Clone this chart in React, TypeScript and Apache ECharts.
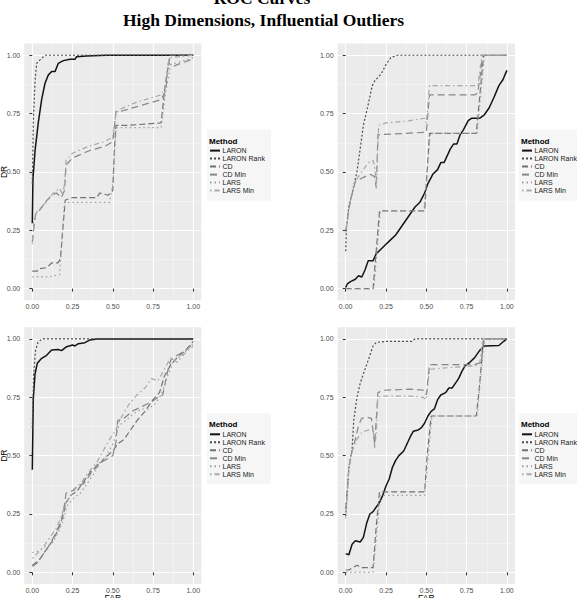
import { useEffect, useRef } from "react";
import * as echarts from "echarts";

const METHODS = ["LARON", "LARON Rank", "CD", "CD Min", "LARS", "LARS Min"];
const TICK_VALUES = [0, 0.25, 0.5, 0.75, 1];
const TICK_LABELS = ["0.00", "0.25", "0.50", "0.75", "1.00"];
const MINOR_VALUES = [0.125, 0.375, 0.625, 0.875];
const TITLE_LINES = ["ROC Curves", "High Dimensions, Influential Outliers"];
const X_TITLE = "FAR";
const Y_TITLE = "DR";
const LEGEND_TITLE = "Method";

// Panel 1: top left
const p1Laron = [[0,0.28],[0.004,0.47],[0.017,0.59],[0.037,0.71],[0.058,0.81],[0.079,0.88],[0.099,0.915],[0.12,0.93],[0.141,0.93],[0.161,0.965],[0.193,0.977],[0.234,0.983],[0.265,0.983],[0.275,0.994],[0.337,0.997],[0.46,1],[1,1]];
const p1Rank = [[0,0.45],[0.006,0.71],[0.017,0.89],[0.027,0.965],[0.048,0.98],[0.079,1],[1,1]];
const p1Cd = [[0,0.075],[0.03,0.075],[0.04,0.085],[0.09,0.09],[0.12,0.11],[0.16,0.11],[0.175,0.13],[0.19,0.26],[0.205,0.38],[0.25,0.39],[0.4,0.39],[0.42,0.41],[0.47,0.4],[0.5,0.42],[0.51,0.6],[0.52,0.7],[0.6,0.7],[0.8,0.71],[0.825,0.87],[0.855,1],[1,1]];
const p1CdMin = [[0,0.2],[0.02,0.32],[0.05,0.34],[0.08,0.37],[0.12,0.4],[0.15,0.41],[0.18,0.39],[0.2,0.42],[0.21,0.53],[0.25,0.56],[0.35,0.59],[0.45,0.61],[0.5,0.63],[0.52,0.76],[0.55,0.76],[0.65,0.78],[0.8,0.81],[0.83,0.85],[0.845,0.97],[0.87,0.95],[0.9,0.96],[1,0.985]];
const p1Lars = [[0,0.05],[0.1,0.05],[0.17,0.06],[0.2,0.37],[0.48,0.37],[0.5,0.45],[0.52,0.69],[0.8,0.69],[0.83,0.85],[0.86,0.96],[1,0.99]];
const p1LarsMin = [[0,0.19],[0.01,0.3],[0.03,0.33],[0.07,0.36],[0.1,0.38],[0.13,0.41],[0.17,0.43],[0.19,0.4],[0.2,0.45],[0.21,0.55],[0.25,0.58],[0.35,0.61],[0.45,0.63],[0.5,0.65],[0.52,0.75],[0.55,0.77],[0.65,0.8],[0.8,0.83],[0.83,0.87],[0.85,0.99],[1,1]];

// Panel 2: top right
const p2Laron = [[0,0.005],[0.01,0.02],[0.03,0.03],[0.06,0.04],[0.08,0.055],[0.1,0.05],[0.12,0.08],[0.14,0.12],[0.17,0.12],[0.19,0.15],[0.22,0.17],[0.25,0.19],[0.28,0.21],[0.31,0.23],[0.34,0.26],[0.37,0.29],[0.4,0.32],[0.43,0.35],[0.46,0.37],[0.49,0.41],[0.51,0.45],[0.54,0.49],[0.57,0.51],[0.59,0.54],[0.61,0.54],[0.63,0.57],[0.65,0.6],[0.67,0.62],[0.69,0.62],[0.71,0.66],[0.73,0.68],[0.76,0.72],[0.78,0.73],[0.83,0.73],[0.86,0.745],[0.89,0.775],[0.92,0.82],[0.95,0.87],[0.975,0.895],[0.99,0.92],[1,0.935]];
const p2Rank = [[0,0.16],[0.005,0.26],[0.02,0.35],[0.04,0.41],[0.07,0.5],[0.09,0.6],[0.11,0.7],[0.14,0.79],[0.165,0.87],[0.18,0.89],[0.22,0.92],[0.25,0.96],[0.28,0.99],[0.32,1],[1,1]];
const p2Cd = [[0,0],[0.17,0],[0.2,0.25],[0.21,0.333],[0.49,0.333],[0.505,0.5],[0.52,0.665],[0.81,0.665],[0.835,0.85],[0.855,1],[1,1]];
const p2CdMin = [[0,0.25],[0.03,0.38],[0.06,0.46],[0.09,0.47],[0.12,0.48],[0.15,0.49],[0.18,0.48],[0.19,0.43],[0.2,0.66],[0.22,0.66],[0.5,0.67],[0.52,0.83],[0.8,0.83],[0.82,0.84],[0.85,1],[1,1]];
const p2Lars = [[0,0],[0.175,0],[0.215,0.333],[0.485,0.333],[0.525,0.665],[0.815,0.665],[0.86,1],[1,1]];
const p2LarsMin = [[0,0.24],[0.02,0.35],[0.06,0.46],[0.1,0.5],[0.14,0.54],[0.17,0.55],[0.18,0.52],[0.19,0.45],[0.205,0.7],[0.25,0.71],[0.4,0.72],[0.49,0.73],[0.5,0.71],[0.52,0.87],[0.8,0.87],[0.82,0.87],[0.845,1],[1,1]];

// Panel 3: bottom left
const p3Laron = [[0,0.44],[0.006,0.74],[0.017,0.85],[0.031,0.896],[0.058,0.917],[0.089,0.93],[0.12,0.953],[0.161,0.955],[0.182,0.95],[0.213,0.967],[0.25,0.974],[0.265,0.97],[0.286,0.98],[0.327,0.984],[0.358,0.996],[0.4,1],[1,1]];
const p3Rank = [[0,0.62],[0.008,0.85],[0.02,0.95],[0.035,0.985],[0.06,1],[1,1]];
const p3Cd = [[0,0.03],[0.04,0.05],[0.08,0.09],[0.12,0.13],[0.16,0.18],[0.19,0.24],[0.21,0.3],[0.24,0.33],[0.28,0.35],[0.32,0.39],[0.36,0.43],[0.4,0.45],[0.45,0.49],[0.5,0.52],[0.53,0.55],[0.57,0.57],[0.61,0.61],[0.65,0.65],[0.7,0.69],[0.75,0.74],[0.79,0.77],[0.82,0.84],[0.86,0.89],[0.9,0.92],[0.95,0.95],[1,0.99]];
const p3CdMin = [[0,0.025],[0.03,0.04],[0.06,0.07],[0.1,0.11],[0.14,0.16],[0.18,0.22],[0.2,0.29],[0.21,0.34],[0.25,0.35],[0.28,0.37],[0.32,0.38],[0.36,0.42],[0.4,0.46],[0.45,0.48],[0.5,0.5],[0.52,0.56],[0.53,0.65],[0.57,0.66],[0.62,0.69],[0.68,0.71],[0.74,0.73],[0.78,0.75],[0.81,0.76],[0.84,0.86],[0.86,0.91],[0.9,0.93],[0.95,0.95],[1,0.98]];
const p3Lars = [[0,0.085],[0.04,0.09],[0.08,0.11],[0.12,0.12],[0.16,0.17],[0.19,0.22],[0.22,0.29],[0.26,0.32],[0.3,0.34],[0.34,0.38],[0.38,0.42],[0.42,0.47],[0.46,0.5],[0.5,0.55],[0.54,0.63],[0.58,0.65],[0.63,0.68],[0.68,0.7],[0.72,0.7],[0.76,0.72],[0.8,0.76],[0.84,0.84],[0.88,0.91],[0.93,0.93],[0.97,0.96],[1,0.98]];
const p3LarsMin = [[0,0.06],[0.03,0.08],[0.07,0.11],[0.11,0.15],[0.15,0.19],[0.18,0.24],[0.2,0.28],[0.23,0.32],[0.27,0.36],[0.31,0.39],[0.35,0.43],[0.4,0.47],[0.44,0.52],[0.48,0.57],[0.51,0.6],[0.55,0.66],[0.6,0.72],[0.65,0.76],[0.7,0.79],[0.74,0.83],[0.78,0.82],[0.82,0.87],[0.86,0.92],[0.9,0.9],[0.95,0.94],[1,0.97]];

// Panel 4: bottom right
const p4Laron = [[0,0.08],[0.02,0.075],[0.04,0.12],[0.06,0.135],[0.09,0.13],[0.11,0.15],[0.13,0.21],[0.15,0.25],[0.17,0.26],[0.19,0.28],[0.21,0.3],[0.23,0.33],[0.25,0.37],[0.27,0.4],[0.29,0.45],[0.31,0.48],[0.33,0.5],[0.36,0.52],[0.38,0.55],[0.4,0.58],[0.42,0.605],[0.45,0.61],[0.47,0.62],[0.49,0.64],[0.51,0.67],[0.53,0.69],[0.55,0.7],[0.57,0.74],[0.59,0.76],[0.62,0.77],[0.64,0.79],[0.66,0.79],[0.68,0.81],[0.7,0.83],[0.72,0.86],[0.74,0.885],[0.77,0.9],[0.8,0.92],[0.83,0.95],[0.86,0.97],[0.95,0.972],[0.98,0.99],[1,1]];
const p4Rank = [[0,0.24],[0.01,0.35],[0.02,0.45],[0.04,0.53],[0.05,0.65],[0.07,0.75],[0.09,0.81],[0.12,0.87],[0.15,0.93],[0.17,0.97],[0.19,0.985],[0.25,0.99],[0.41,0.99],[0.43,1],[1,1]];
const p4Cd = [[0,0.01],[0.02,0.01],[0.07,0.03],[0.1,0.02],[0.17,0.02],[0.19,0.2],[0.21,0.345],[0.49,0.345],[0.505,0.5],[0.53,0.67],[0.81,0.67],[0.83,0.8],[0.855,1],[1,1]];
const p4CdMin = [[0,0.27],[0.02,0.45],[0.04,0.52],[0.06,0.57],[0.08,0.63],[0.1,0.66],[0.13,0.665],[0.16,0.66],[0.18,0.55],[0.2,0.77],[0.23,0.78],[0.4,0.785],[0.49,0.78],[0.5,0.76],[0.52,0.89],[0.8,0.89],[0.84,0.9],[0.86,1],[1,1]];
const p4Lars = [[0,0],[0.17,0],[0.215,0.33],[0.49,0.33],[0.535,0.67],[0.815,0.67],[0.86,1],[1,1]];
const p4LarsMin = [[0,0.23],[0.02,0.44],[0.04,0.52],[0.07,0.57],[0.1,0.6],[0.14,0.61],[0.17,0.62],[0.18,0.53],[0.19,0.6],[0.2,0.75],[0.23,0.755],[0.4,0.755],[0.48,0.75],[0.5,0.74],[0.52,0.87],[0.6,0.875],[0.8,0.885],[0.83,0.89],[0.85,1],[1,1]];

const PANEL_DATA = [
  [p1Laron, p1Rank, p1Cd, p1CdMin, p1Lars, p1LarsMin],
  [p2Laron, p2Rank, p2Cd, p2CdMin, p2Lars, p2LarsMin],
  [p3Laron, p3Rank, p3Cd, p3CdMin, p3Lars, p3LarsMin],
  [p4Laron, p4Rank, p4Cd, p4CdMin, p4Lars, p4LarsMin],
];

const SANS = "'Liberation Sans', Arial, Helvetica, sans-serif";
const SERIF = "'Liberation Serif', 'Times New Roman', serif";

const LINE_STYLES: Record<string, { color: string; width: number; type: any }> = {
  "LARON": { color: "#141414", width: 1.5, type: "solid" },
  "LARON Rank": { color: "#4c4c4c", width: 1.2, type: [2, 2] },
  "CD": { color: "#737373", width: 1.2, type: [6, 3] },
  "CD Min": { color: "#878787", width: 1.2, type: [7, 4] },
  "LARS": { color: "#9e9e9e", width: 1.2, type: [1.5, 3] },
  "LARS Min": { color: "#a8a8a8", width: 1.2, type: [1.5, 3, 5, 3] },
};

// Panel boxes (grey area), legend anchors and which axis titles each panel carries
const PANELS = [
  { left: 24.25, top: 43.6, width: 177.1, height: 256.7, legendX: 207, yTitle: true, xTitle: false },
  { left: 337.6, top: 43.6, width: 177.4, height: 256.7, legendX: 519, yTitle: false, xTitle: false },
  { left: 24.25, top: 327.3, width: 177.1, height: 256.7, legendX: 207, yTitle: true, xTitle: true },
  { left: 337.6, top: 327.3, width: 177.4, height: 256.7, legendX: 519, yTitle: false, xTitle: true },
];

const tickFormatter = (v: number) => {
  const idx = TICK_VALUES.findIndex((t) => Math.abs(t - v) < 1e-9);
  return idx >= 0 ? TICK_LABELS[idx] : "";
};

function majorAxis(gridIndex: number, dim: "x" | "y") {
  return {
    gridIndex,
    type: "value",
    min: -0.05,
    max: 1.05,
    position: dim === "x" ? "bottom" : "left",
    axisLine: { show: false },
    axisTick: { show: true, length: 3, lineStyle: { color: "#333333", width: 1 }, customValues: TICK_VALUES },
    axisLabel: {
      show: true,
      customValues: TICK_VALUES,
      formatter: tickFormatter,
      fontSize: 7,
      fontFamily: SANS,
      color: "#4d4d4d",
      margin: dim === "x" ? 3 : 4,
    },
    splitLine: { show: true, lineStyle: { color: "#ffffff", width: 1.1 } },
    axisPointer: { show: false },
  };
}

function minorAxis(gridIndex: number, dim: "x" | "y") {
  return {
    gridIndex,
    type: "value",
    min: -0.05,
    max: 1.05,
    position: dim === "x" ? "top" : "right",
    axisLine: { show: false },
    axisTick: { show: false, customValues: MINOR_VALUES },
    axisLabel: { show: false, customValues: MINOR_VALUES },
    splitLine: { show: true, lineStyle: { color: "#f7f7f7", width: 0.6 } },
    axisPointer: { show: false },
  };
}

export default function App() {
  const ref = useRef<HTMLDivElement>(null);

  useEffect(() => {
    if (!ref.current) return;
    const chart = echarts.init(ref.current, null, { renderer: "svg" });

    const grid = PANELS.map((p) => ({
      left: p.left,
      top: p.top,
      width: p.width,
      height: p.height,
      show: true,
      backgroundColor: "#ebebeb",
      borderWidth: 0,
      containLabel: false,
    }));

    const xAxis: any[] = [];
    const yAxis: any[] = [];
    PANELS.forEach((_, i) => {
      xAxis.push(majorAxis(i, "x"), minorAxis(i, "x"));
      yAxis.push(majorAxis(i, "y"), minorAxis(i, "y"));
    });

    const series: any[] = [];
    PANEL_DATA.forEach((curves, i) => {
      curves.forEach((data, k) => {
        const name = METHODS[k];
        const st = LINE_STYLES[name];
        series.push({
          type: "line",
          name,
          xAxisIndex: 2 * i,
          yAxisIndex: 2 * i,
          data,
          symbol: "none",
          showSymbol: false,
          silent: true,
          z: 2 + k,
          itemStyle: { color: st.color },
          lineStyle: { color: st.color, width: st.width, type: st.type },
        });
      });
    });

    // Legend keys are plain line samples: the marker that line series add is hidden
    const legend = PANELS.map((p) => ({
      orient: "vertical",
      left: p.legendX,
      top: p.top + 86,
      itemWidth: 10,
      itemHeight: 10,
      itemGap: 0,
      padding: [17, 6, 6, 2],
      backgroundColor: "#f6f6f6",
      selectedMode: false,
      itemStyle: { opacity: 0 },
      textStyle: { fontSize: 7, fontFamily: SANS, color: "#1a1a1a", padding: [0, 0, 0, -2.5] },
      data: METHODS,
    }));

    const elements: any[] = [
      {
        type: "text",
        x: 262,
        y: -2.5,
        z: 100,
        style: { text: TITLE_LINES[0], font: `bold 17.5px ${SERIF}`, fill: "#000", align: "center", verticalAlign: "middle" },
      },
      {
        type: "text",
        x: 263.5,
        y: 19.5,
        z: 100,
        style: { text: TITLE_LINES[1], font: `bold 17.5px ${SERIF}`, fill: "#000", align: "center", verticalAlign: "middle" },
      },
    ];
    PANELS.forEach((p) => {
      elements.push({
        type: "text",
        x: p.legendX + 2,
        y: p.top + 97.5,
        z: 100,
        style: { text: LEGEND_TITLE, font: `bold 8px ${SANS}`, fill: "#000", align: "left", verticalAlign: "middle" },
      });
      if (p.yTitle) {
        elements.push({
          type: "text",
          x: 3.5,
          y: p.top + p.height / 2,
          z: 100,
          rotation: Math.PI / 2,
          style: { text: Y_TITLE, font: `8.5px ${SANS}`, fill: "#000", align: "center", verticalAlign: "middle" },
        });
      }
      if (p.xTitle) {
        elements.push({
          type: "text",
          x: p.left + p.width / 2,
          y: 597.5,
          z: 100,
          style: { text: X_TITLE, font: `8.5px ${SANS}`, fill: "#000", align: "center", verticalAlign: "middle" },
        });
      }
    });

    chart.setOption({
      animation: false,
      backgroundColor: "#ffffff",
      grid,
      xAxis,
      yAxis,
      legend,
      series,
      graphic: { elements },
    });

    return () => chart.dispose();
  }, []);

  return (
    <div
      ref={ref}
      style={{ position: "fixed", left: 0, top: 0, width: 577, height: 598 }}
    />
  );
}
